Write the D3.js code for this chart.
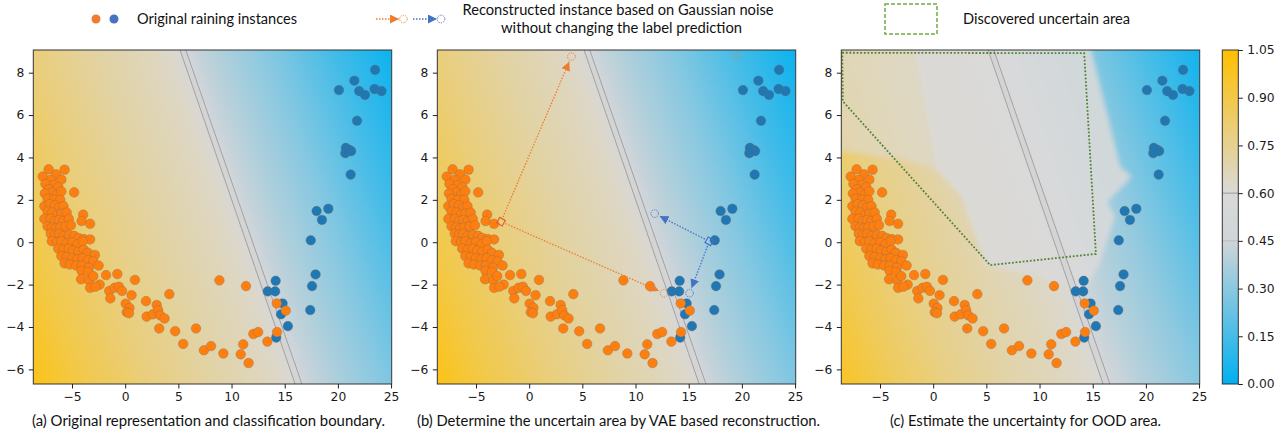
<!DOCTYPE html>
<html>
<head>
<meta charset="utf-8">
<script src="https://cdn.jsdelivr.net/npm/d3@7"></script>
<style>
  body { margin: 0; background: #fff; }
  .axis text { font-family: "DejaVu Sans", sans-serif; font-size: 12.3px; fill: #1a1a1a; }
  .axis line { stroke: #222; }
  .axis path { display: none; }
  .lbl { font-family: Lato, "Open Sans", sans-serif; font-size: 15.5px; fill: #111; }
</style>
</head>
<body>
<svg id="fig" width="1287" height="434"></svg>
<script>
// training instances (same in all three panels)
var orangePoints = [
  [-7.2, 3.44], [-5.7, 3.42], [-7.75, 3.1], [-6.5, 3.2], [-6.0, 2.95], [-7.0, 2.95],
  [-7.5, 2.75], [-6.7, 2.7], [-6.3, 2.6], [-7.2, 2.5], [-6.9, 2.35], [-7.55, 2.3],
  [-6.4, 2.25], [-6.0, 2.4], [-7.3, 2.05], [-6.7, 2.0], [-6.1, 2.0], [-4.8, 2.35],
  [-7.6, 1.7], [-7.1, 1.8], [-6.6, 1.75], [-6.2, 1.65], [-5.8, 1.7], [-7.3, 1.45],
  [-6.85, 1.4], [-6.4, 1.3], [-6.0, 1.35], [-5.5, 1.4], [-7.6, 1.1], [-7.0, 1.1],
  [-6.6, 1.0], [-6.2, 1.05], [-5.8, 1.0], [-5.3, 1.1], [-3.95, 1.3], [-4.1, 1.0], [-3.3, 0.87],
  [-7.3, 0.75], [-6.9, 0.7], [-6.5, 0.65], [-6.1, 0.7], [-5.6, 0.75], [-5.1, 0.8],
  [-7.0, 0.4], [-6.6, 0.35], [-6.2, 0.4], [-5.8, 0.3], [-5.3, 0.35], [-4.8, 0.3],
  [-4.4, 0.2], [-3.9, 0.15], [-3.3, 0.13], [-6.9, 0.05], [-6.4, 0.0], [-6.0, 0.05],
  [-5.5, -0.05], [-5.0, 0.0], [-4.5, -0.1], [-4.0, 0.05],
  [-6.3, -0.3], [-5.8, -0.35], [-5.3, -0.3], [-4.9, -0.4], [-4.4, -0.45], [-3.9, -0.35],
  [-3.5, -0.5], [-2.85, -0.6], [-6.0, -0.65], [-5.5, -0.7], [-5.0, -0.75], [-4.5, -0.8],
  [-4.0, -0.75], [-3.5, -0.85], [-3.0, -0.9], [-5.7, -1.0], [-5.2, -1.05], [-4.6, -1.1],
  [-4.1, -1.1], [-2.5, -1.1], [-3.4, -1.2],
  [-4.1, -1.35], [-3.5, -1.4], [-4.15, -1.75], [-3.4, -1.8], [-3.0, -1.6], [-2.4, -2.0],
  [-3.3, -2.15], [-2.8, -2.1], [-1.8, -1.55], [-0.74, -1.5], [-1.5, -2.3], [-1.0, -2.15],
  [-0.6, -2.1], [-0.3, -2.3], [-1.4, -2.65], [0.92, -1.78],
  [0.6, -2.5], [0.05, -2.9], [0.4, -3.1], [0.15, -3.3], [0.35, -3.35], [1.96, -2.78],
  [2.02, -3.51], [2.96, -2.96], [2.6, -3.4], [3.1, -3.2], [3.3, -3.45], [3.7, -3.6],
  [4.15, -2.45], [3.2, -4.07], [4.7, -4.2], [5.45, -4.8], [6.66, -4.07], [7.4, -5.1],
  [8.07, -4.9], [9.23, -5.25], [8.86, -1.8], [11.36, -2.07], [10.86, -5.29], [11.1, -4.82],
  [11.6, -5.7], [12.05, -4.33], [12.5, -4.24], [13.37, -4.69], [14.28, -4.24],
  [14.25, -2.89], [15.1, -3.23]
];
var bluePoints = [
  [23.5, 8.13], [20.1, 7.18], [21.55, 7.62], [22.0, 7.13], [22.55, 6.95], [23.45, 7.23],
  [24.1, 7.13], [21.8, 5.73], [20.75, 4.45], [21.1, 4.35], [20.7, 4.2], [21.25, 4.3],
  [20.85, 4.3], [21.2, 3.19], [19.1, 1.58], [18.0, 1.47], [18.5, 1.05], [17.45, 0.09],
  [17.9, -1.52], [17.57, -2.07], [17.4, -3.2], [14.15, -1.82], [13.4, -2.32], [14.1, -2.32],
  [14.8, -2.89], [14.65, -3.4], [15.3, -3.96], [14.2, -4.5]
];

var xTicks = [-5, 0, 5, 10, 15, 20, 25];
var yTicks = [-6, -4, -2, 0, 2, 4, 6, 8];
var cbarTicks = [0, 0.15, 0.30, 0.45, 0.60, 0.75, 0.90, 1.05];
var cbarLines = [0.45, 0.60];

// colour map of the probability field
var colorStops = [0, 0.45, 0.60, 1.05];
var colorValues = ["#00b0f0", "#d0d5d8", "#d9d9d9", "#ffc000"];

// the decision boundary (two thin lines with a grey band between)
var boundaryLeft = [[5.16, 9.07], [15.98, -6.69]];
var boundaryRight = [[5.70, 9.07], [16.62, -6.69]];

// field value against distance (px) from the boundary, read at a few places
var fieldDist = [-300, -250, -200, -140, -80, -30, -12, 0, 12, 30, 80, 140, 200, 300];
var fieldA = [1.05, 1.0, 0.89, 0.79, 0.71, 0.655, 0.63, 0.525, 0.43, 0.39, 0.29, 0.15, 0.02, 0.0];
var fieldC = [1.05, 0.97, 0.86, 0.76, 0.69, 0.645, 0.62, 0.525, 0.44, 0.40, 0.31, 0.17, 0.03, 0.0];

// panel (b): VAE reconstructions
var reconOrigin = [[-2.65, 0.97], [16.94, 0.04]];
var reconOrange = [[3.97, 8.76], [12.68, -2.41]];
var reconBlue = [[11.8, 1.35], [15.08, -2.41]];
var reconStray = [[19.5, 8.79]];

// panel (c): discovered uncertain area and the grey facets of the field
var uncertainArea = [[-8.55, 8.94], [14.2, 8.92], [15.3, -0.55], [5.35, -1.08], [-8.5, 6.65]];
var greyFacets = [[-1.9, 9.2], [14.8, 9.2], [17.6, 3.56], [18.7, 3.1], [16.4, 1.9], [17.1, 1.2],
  [15.6, -1.1], [14.3, -2.2], [10, -1.6], [5.0, -1.1], [2.6, 2.2], [0.1, 3.5]];
var greyCorner = [[-8.8, 9.2], [-1.9, 9.2], [0.1, 3.5], [-3, 3.9], [-8.8, 4.3]];

var captions = [
  "(a) Original representation and classification boundary.",
  "(b) Determine the uncertain area by VAE based reconstruction.",
  "(c) Estimate the uncertainty for OOD area."
];
var captionX = [208.5, 618.5, 1025.5];
var captionW = [353, 403, 271];

var W = 358.4, H = 334, plotTop = 50;
var panelLefts = [33.3, 437.3, 841.3];
var orangeCol = "#ff7f0e", blueCol = "#1f77b4";
var arrowOrange = "#ed7d31", arrowBlue = "#4472c4";

var x = d3.scaleLinear().domain([-8.64, 25.06]).range([0, W]);
var y = d3.scaleLinear().domain([-6.69, 9.07]).range([H, 0]);
var color = d3.scaleLinear().domain(colorStops).range(colorValues);

var svg = d3.select("#fig");
var defs = svg.append("defs");

defs.append("clipPath").attr("id", "plotclip")
  .append("rect").attr("width", W).attr("height", H);

defs.append("filter").attr("id", "soft")
  .attr("x", "-10%").attr("y", "-10%").attr("width", "120%").attr("height", "120%")
  .append("feGaussianBlur").attr("stdDeviation", 2.5);

// gradient perpendicular to the boundary
var tMid = [x((boundaryLeft[0][0] + boundaryRight[0][0]) / 2), y(boundaryLeft[0][1])];
var bMid = [x((boundaryLeft[1][0] + boundaryRight[1][0]) / 2), y(boundaryLeft[1][1])];
var len = Math.hypot(bMid[0] - tMid[0], bMid[1] - tMid[1]);
var nrm = [(bMid[1] - tMid[1]) / len, -(bMid[0] - tMid[0]) / len];
var mid = [(tMid[0] + bMid[0]) / 2, (tMid[1] + bMid[1]) / 2];
var span = d3.extent(fieldDist);

function addField(id, values) {
  var grad = defs.append("linearGradient").attr("id", id)
    .attr("gradientUnits", "userSpaceOnUse")
    .attr("x1", mid[0] + nrm[0] * span[0]).attr("y1", mid[1] + nrm[1] * span[0])
    .attr("x2", mid[0] + nrm[0] * span[1]).attr("y2", mid[1] + nrm[1] * span[1]);
  grad.selectAll("stop").data(fieldDist).enter().append("stop")
    .attr("offset", function(d) { return (d - span[0]) / (span[1] - span[0]); })
    .attr("stop-color", function(d, i) { return color(values[i]); });
}
addField("fieldA", fieldA);
addField("fieldC", fieldC);

function arrowMarker(id, col) {
  defs.append("marker").attr("id", id)
    .attr("viewBox", "0 0 10 10").attr("refX", 10).attr("refY", 5)
    .attr("markerUnits", "userSpaceOnUse")
    .attr("markerWidth", 9).attr("markerHeight", 9)
    .attr("orient", "auto")
    .append("path").attr("d", "M0,0L10,5L0,10Z").attr("fill", col);
}
arrowMarker("headO", arrowOrange);
arrowMarker("headB", arrowBlue);

var line = d3.line().x(function(d) { return x(d[0]); }).y(function(d) { return y(d[1]); });

function drawPanel(i) {
  var g = svg.append("g").attr("transform", "translate(" + panelLefts[i] + "," + plotTop + ")");
  var plot = g.append("g").attr("clip-path", "url(#plotclip)");

  plot.append("rect").attr("width", W).attr("height", H)
    .attr("fill", i == 2 ? "url(#fieldC)" : "url(#fieldA)");

  if (i == 2) {
    plot.append("path").attr("d", line(greyCorner) + "Z")
      .attr("fill", "#dcdad4").attr("opacity", 0.6).attr("filter", "url(#soft)");
    plot.append("path").attr("d", line(greyFacets) + "Z")
      .attr("fill", "#dadada").attr("opacity", 0.88).attr("filter", "url(#soft)");
  }

  // boundary band
  plot.append("path")
    .attr("d", line([boundaryLeft[0], boundaryLeft[1], boundaryRight[1], boundaryRight[0]]) + "Z")
    .attr("fill", "#d4d4d4");
  [boundaryLeft, boundaryRight].forEach(function(b) {
    plot.append("path").attr("d", line(b))
      .attr("stroke", "#7f7f7f").attr("stroke-width", 0.6).attr("fill", "none");
  });

  plot.selectAll("circle.blue").data(bluePoints).enter().append("circle")
    .attr("class", "blue")
    .attr("cx", function(d) { return x(d[0]); })
    .attr("cy", function(d) { return y(d[1]); })
    .attr("r", 4.8).attr("fill", blueCol)
    .attr("stroke", "#6b6b6b").attr("stroke-width", 0.4);

  plot.selectAll("circle.orange").data(orangePoints).enter().append("circle")
    .attr("class", "orange")
    .attr("cx", function(d) { return x(d[0]); })
    .attr("cy", function(d) { return y(d[1]); })
    .attr("r", 4.8).attr("fill", orangeCol)
    .attr("stroke", "#8a7060").attr("stroke-width", 0.4);

  if (i == 1) drawRecon(plot);

  if (i == 2) {
    plot.append("path").attr("d", line(uncertainArea) + "Z")
      .attr("fill", "none").attr("stroke", "#548235")
      .attr("stroke-width", 1.8).attr("stroke-dasharray", "1.8,1.8");
  }

  g.append("rect").attr("width", W).attr("height", H)
    .attr("fill", "none").attr("stroke", "#333").attr("stroke-width", 1);

  g.append("g").attr("class", "axis")
    .attr("transform", "translate(0," + H + ")")
    .call(d3.axisBottom(x).tickValues(xTicks).tickSize(4.5).tickPadding(3.5));
  g.append("g").attr("class", "axis")
    .call(d3.axisLeft(y).tickValues(yTicks).tickSize(4.5).tickPadding(4.5));
}

function drawRecon(plot) {
  function arrow(from, to, col, head) {
    var p0 = [x(from[0]), y(from[1])], p1 = [x(to[0]), y(to[1])];
    var d = Math.hypot(p1[0] - p0[0], p1[1] - p0[1]);
    var ux = (p1[0] - p0[0]) / d, uy = (p1[1] - p0[1]) / d;
    plot.append("line")
      .attr("x1", p0[0] + ux * 5).attr("y1", p0[1] + uy * 5)
      .attr("x2", p1[0] - ux * 5.5).attr("y2", p1[1] - uy * 5.5)
      .attr("stroke", col).attr("stroke-width", 1.3)
      .attr("stroke-dasharray", "1.5,1.5")
      .attr("marker-end", "url(#" + head + ")");
  }
  function openCircle(p, col) {
    plot.append("circle").attr("cx", x(p[0])).attr("cy", y(p[1])).attr("r", 3.8)
      .attr("fill", "none").attr("stroke", col).attr("stroke-width", 1)
      .attr("stroke-dasharray", "1.2,1.2");
  }
  function diamond(p, col) {
    plot.append("path").attr("d", d3.symbol(d3.symbolSquare, 40)())
      .attr("transform", "translate(" + x(p[0]) + "," + y(p[1]) + ") rotate(30)")
      .attr("fill", "none").attr("stroke", col).attr("stroke-width", 1.2);
  }
  reconOrange.forEach(function(t) { arrow(reconOrigin[0], t, arrowOrange, "headO"); openCircle(t, arrowOrange); });
  reconBlue.forEach(function(t) { arrow(reconOrigin[1], t, arrowBlue, "headB"); openCircle(t, arrowBlue); });
  reconStray.forEach(function(t) { openCircle(t, arrowOrange); });
  diamond(reconOrigin[0], "#e0602a");
  diamond(reconOrigin[1], arrowBlue);
}

[0, 1, 2].forEach(drawPanel);

// colour bar
var cbX = 1222.3, cbW = 16;
var cb = d3.scaleLinear().domain([0, 1.05]).range([H, 0]);
var cbGrad = defs.append("linearGradient").attr("id", "cbgrad")
  .attr("x1", 0).attr("y1", 1).attr("x2", 0).attr("y2", 0);
cbGrad.selectAll("stop").data(colorStops).enter().append("stop")
  .attr("offset", function(d) { return d / 1.05; })
  .attr("stop-color", function(d, i) { return colorValues[i]; });
var cbg = svg.append("g").attr("transform", "translate(" + cbX + "," + plotTop + ")");
cbg.append("rect").attr("width", cbW).attr("height", H).attr("fill", "url(#cbgrad)");
cbg.selectAll("line.lvl").data(cbarLines).enter().append("line")
  .attr("class", "lvl")
  .attr("x1", 0).attr("x2", cbW)
  .attr("y1", function(d) { return cb(d); }).attr("y2", function(d) { return cb(d); })
  .attr("stroke", function(d, i) { return i == 0 ? "#b5b5b5" : "#8c8c8c"; })
  .attr("stroke-width", 0.8);
cbg.append("rect").attr("width", cbW).attr("height", H)
  .attr("fill", "none").attr("stroke", "#333").attr("stroke-width", 1);
cbg.append("g").attr("class", "axis").attr("transform", "translate(" + cbW + ",0)")
  .call(d3.axisRight(cb).tickValues(cbarTicks).tickFormat(d3.format(".2f"))
    .tickSize(4.5).tickPadding(4.5));

// legend
var leg = svg.append("g");
leg.append("circle").attr("cx", 96).attr("cy", 19).attr("r", 4.5).attr("fill", arrowOrange);
leg.append("circle").attr("cx", 114).attr("cy", 19).attr("r", 4.5).attr("fill", arrowBlue);
leg.append("text").attr("class", "lbl").attr("x", 137).attr("y", 24)
  .attr("textLength", 160).attr("lengthAdjust", "spacingAndGlyphs")
  .text("Original raining instances");

function legendArrow(x0, x1, cx, col, head) {
  leg.append("line").attr("x1", x0).attr("x2", x1).attr("y1", 19).attr("y2", 19)
    .attr("stroke", col).attr("stroke-width", 1.3).attr("stroke-dasharray", "1.5,1.5")
    .attr("marker-end", "url(#" + head + ")");
  leg.append("circle").attr("cx", cx).attr("cy", 19).attr("r", 3.8)
    .attr("fill", "none").attr("stroke", col).attr("stroke-width", 1)
    .attr("stroke-dasharray", "1.2,1.2");
}
legendArrow(376, 399, 403.5, arrowOrange, "headO");
legendArrow(413, 437, 441, arrowBlue, "headB");

leg.append("text").attr("class", "lbl").attr("x", 618).attr("y", 15)
  .attr("text-anchor", "middle")
  .attr("textLength", 311).attr("lengthAdjust", "spacingAndGlyphs")
  .text("Reconstructed instance based on Gaussian noise");
leg.append("text").attr("class", "lbl").attr("x", 621.5).attr("y", 33)
  .attr("text-anchor", "middle")
  .attr("textLength", 241).attr("lengthAdjust", "spacingAndGlyphs")
  .text("without changing the label prediction");

leg.append("rect").attr("x", 885).attr("y", 4).attr("width", 52).attr("height", 30)
  .attr("fill", "none").attr("stroke", "#70ad47").attr("stroke-width", 1.5)
  .attr("stroke-dasharray", "4,2");
leg.append("text").attr("class", "lbl").attr("x", 963).attr("y", 24)
  .attr("textLength", 167).attr("lengthAdjust", "spacingAndGlyphs")
  .text("Discovered uncertain area");

// captions
svg.selectAll("text.cap").data(captions).enter().append("text")
  .attr("class", "lbl cap")
  .attr("x", function(d, i) { return captionX[i]; })
  .attr("y", 426)
  .attr("text-anchor", "middle")
  .attr("textLength", function(d, i) { return captionW[i]; })
  .attr("lengthAdjust", "spacingAndGlyphs")
  .text(function(d) { return d; });
</script>
</body>
</html>
